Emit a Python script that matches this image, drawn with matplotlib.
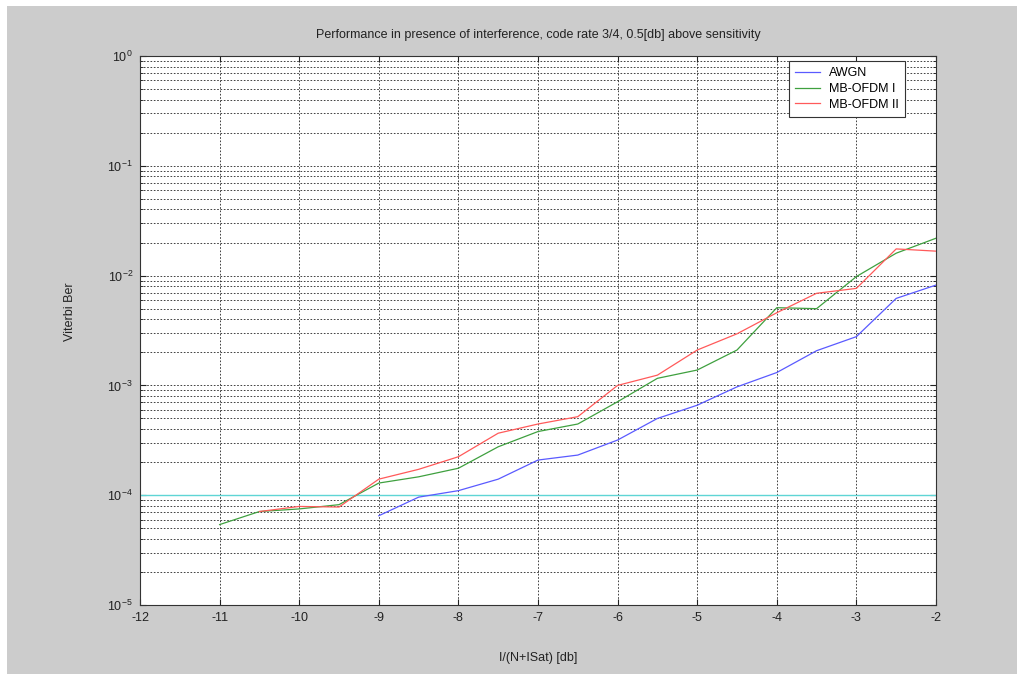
import numpy as np
import matplotlib
matplotlib.use('Agg')
import matplotlib.pyplot as plt
from matplotlib.patches import Rectangle
from matplotlib.ticker import LogLocator, NullFormatter, MultipleLocator

plt.rcParams['font.family'] = ['Liberation Sans', 'DejaVu Sans']
plt.rcParams['mathtext.fontset'] = 'custom'
plt.rcParams['mathtext.rm'] = 'Liberation Sans'
plt.rcParams['axes.unicode_minus'] = False

# interference level I/(N+ISat) [db]
x_awgn = [-9, -8.5, -8, -7.5, -7, -6.5, -6, -5.5, -5, -4.5, -4, -3.5, -3, -2.5, -2]
ber_awgn = [6.5e-5, 9.6e-5, 1.1e-4, 1.4e-4, 2.09e-4, 2.32e-4, 3.18e-4, 5.0e-4, 6.6e-4,
            9.7e-4, 1.31e-3, 2.07e-3, 2.78e-3, 6.2e-3, 8.2e-3]

x_ofdm1 = [-11, -10.5, -10, -9.5, -9, -8.5, -8, -7.5, -7, -6.5, -6, -5.5, -5, -4.5, -4,
           -3.5, -3, -2.5, -2]
ber_ofdm1 = [5.4e-5, 7.1e-5, 7.5e-5, 8.2e-5, 1.29e-4, 1.47e-4, 1.76e-4, 2.76e-4, 3.8e-4,
             4.45e-4, 7.1e-4, 1.16e-3, 1.38e-3, 2.1e-3, 5.1e-3, 5.0e-3, 9.8e-3, 1.6e-2, 2.19e-2]

x_ofdm2 = [-10.5, -10, -9.5, -9, -8.5, -8, -7.5, -7, -6.5, -6, -5.5, -5, -4.5, -4,
           -3.5, -3, -2.5, -2]
ber_ofdm2 = [7.1e-5, 7.9e-5, 7.8e-5, 1.40e-4, 1.72e-4, 2.24e-4, 3.67e-4, 4.45e-4, 5.19e-4,
             1.0e-3, 1.24e-3, 2.1e-3, 2.95e-3, 4.59e-3, 6.9e-3, 7.65e-3, 1.75e-2, 1.67e-2]

ber_target = 1e-4

fig = plt.figure(figsize=(10.17, 6.74), dpi=100, facecolor='#cccccc')
# thin white border at top and left of the screenshot
fig.patches.append(Rectangle((0, 0), 7 / 1017, 1, transform=fig.transFigure,
                             facecolor='white', edgecolor='none', zorder=-1))
fig.patches.append(Rectangle((0, 1 - 6 / 674), 1, 6 / 674, transform=fig.transFigure,
                             facecolor='white', edgecolor='none', zorder=-1))

ax = fig.add_axes([140 / 1017, 1 - 605 / 674, 796 / 1017, 549 / 674])
ax.set_facecolor('white')

ax.plot(x_awgn, ber_awgn, color='#5a5aff', lw=0.9, label='AWGN', zorder=3)
ax.plot(x_ofdm1, ber_ofdm1, color='#3fa03f', lw=0.9, label='MB-OFDM I', zorder=3)
ax.plot(x_ofdm2, ber_ofdm2, color='#ff5a5a', lw=0.9, label='MB-OFDM II', zorder=3)
ax.axhline(ber_target, color='#5fd5d5', lw=1.0, zorder=2)

ax.set_yscale('log')
ax.set_xlim(-12, -2)
ax.set_ylim(1e-5, 1)
ax.xaxis.set_major_locator(MultipleLocator(1))
ax.yaxis.set_major_locator(LogLocator(base=10, numticks=10))
ax.yaxis.set_minor_locator(LogLocator(base=10, subs=np.arange(2, 10), numticks=20))
ax.yaxis.set_minor_formatter(NullFormatter())

ax.grid(True, which='major', axis='both', color='#222222', linestyle=(0, (2, 2)), lw=0.6)
ax.grid(True, which='minor', axis='y', color='#222222', linestyle=(0, (2, 2)), lw=0.6)

ax.tick_params(which='both', direction='in', top=True, right=True, labelsize=9,
               colors='#222222', labelcolor='#222222')
ax.tick_params(which='major', length=4, pad=5)
ax.tick_params(which='minor', length=2)
for s in ax.spines.values():
    s.set_color('#333333')
    s.set_linewidth(0.8)

ax.set_title('Performance in presence of interference, code rate 3/4, 0.5[db] above sensitivity',
             fontsize=9, pad=13, color='#222222')
ax.set_xlabel('I/(N+ISat) [db]', fontsize=9, color='#222222')
ax.xaxis.set_label_coords(0.5, -0.085)
ax.set_ylabel('Viterbi Ber', fontsize=9, color='#222222')
ax.yaxis.set_label_coords(-0.081, 0.535)

leg = ax.legend(loc='upper right', bbox_to_anchor=(0.961, 0.991), borderaxespad=0,
                fontsize=9, fancybox=False, framealpha=1, edgecolor='#333333',
                handlelength=2.0, handletextpad=0.7, labelspacing=0.3, borderpad=0.5)
leg.get_frame().set_linewidth(0.8)

fig.savefig('out.png', dpi=100, facecolor=fig.get_facecolor())
